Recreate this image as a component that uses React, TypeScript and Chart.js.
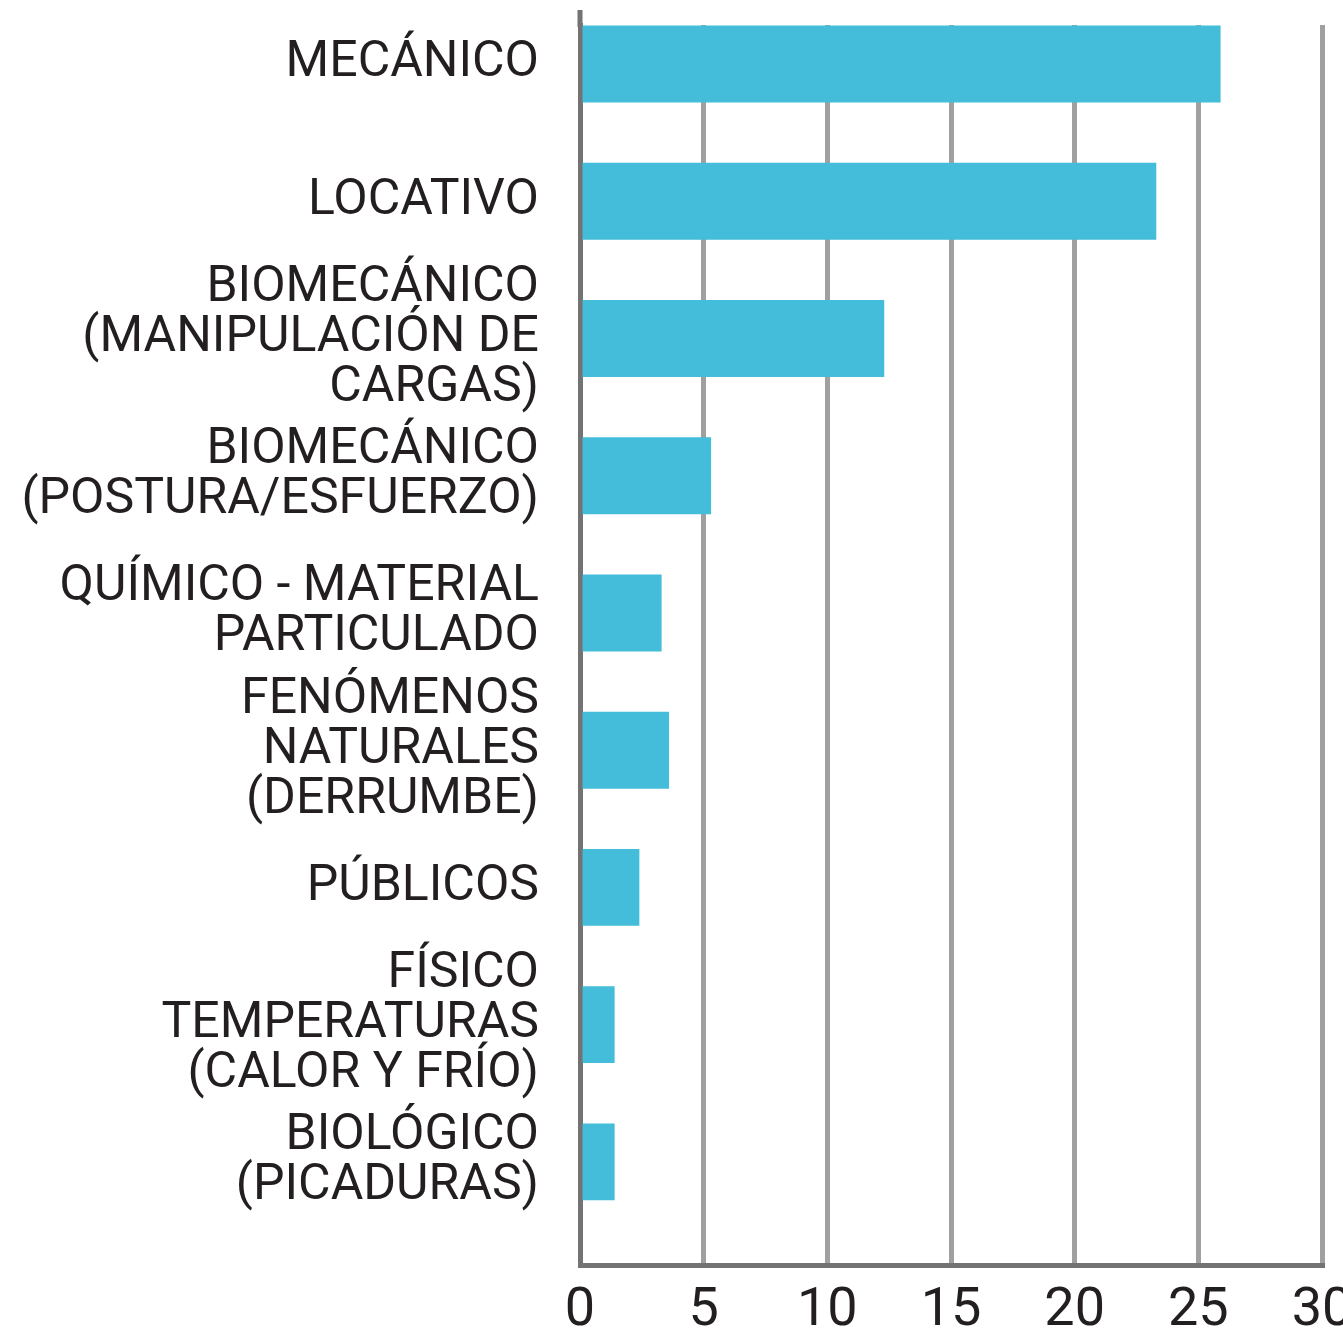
import React, { useEffect, useRef } from 'react';
import { Chart, registerables } from 'chart.js';

Chart.register(...registerables);

// Category labels (multi-line, as in the reference)
const categories: string[][] = [
  ['MECÁNICO'],
  ['LOCATIVO'],
  ['BIOMECÁNICO', '(MANIPULACIÓN DE', 'CARGAS)'],
  ['BIOMECÁNICO', '(POSTURA/ESFUERZO)'],
  ['QUÍMICO - MATERIAL', 'PARTICULADO'],
  ['FENÓMENOS', 'NATURALES', '(DERRUMBE)'],
  ['PÚBLICOS'],
  ['FÍSICO', 'TEMPERATURAS', '(CALOR Y FRÍO)'],
  ['BIOLÓGICO', '(PICADURAS)'],
];

// Series values
const values: number[] = [25.9, 23.3, 12.3, 5.3, 3.3, 3.6, 2.4, 1.4, 1.4];

// X axis range / ticks
const xMin = 0;
const xMax = 30;
const xStep = 5;

const TEXT = '#231F20';
const BAR = '#43BDDA';
const GRID = '#A0A0A0';
const AXIS = '#737373';
const FONT = "Roboto, 'Open Sans', 'DejaVu Sans', sans-serif";

// extends the left axis line a little above the plot area, as in the reference
const axisExtension = {
  id: 'axisExtension',
  beforeDatasetsDraw(chart: any) {
    const { ctx, chartArea } = chart;
    ctx.save();
    ctx.strokeStyle = AXIS;
    ctx.lineWidth = 5;
    ctx.beginPath();
    ctx.moveTo(chartArea.left, chartArea.top - 15);
    ctx.lineTo(chartArea.left, chartArea.top + 2);
    ctx.stroke();
    ctx.restore();
  },
};

export default function App() {
  const ref = useRef<HTMLCanvasElement | null>(null);

  useEffect(() => {
    if (!ref.current) return;
    const chart = new Chart(ref.current, {
      type: 'bar',
      data: {
        datasets: [
          {
            data: values.map((v, i) => ({ x: v, y: i })),
            backgroundColor: BAR,
            borderWidth: 0,
            barPercentage: 0.56,
            categoryPercentage: 1.0,
          },
        ],
      },
      plugins: [axisExtension],
      options: {
        indexAxis: 'y',
        responsive: false,
        animation: false,
        devicePixelRatio: 1,
        layout: { padding: { top: 25, right: 40, left: 0, bottom: 0 } },
        plugins: {
          legend: { display: false },
          tooltip: { enabled: false },
          title: { display: false },
        },
        scales: {
          x: {
            type: 'linear',
            position: 'bottom',
            min: xMin,
            max: xMax,
            offset: false,
            ticks: {
              stepSize: xStep,
              color: TEXT,
              font: { family: FONT, size: 54, lineHeight: 1.2 },
              padding: 14,
              autoSkip: false,
              maxRotation: 0,
            },
            grid: {
              color: GRID,
              lineWidth: 5,
              drawTicks: false,
              offset: false,
            },
            border: { display: true, color: AXIS, width: 5 },
            afterFit: (s: any) => {
              s.height = 67;
              s.paddingLeft = 0;
              s.paddingRight = 0;
            },
          },
          y: {
            type: 'linear',
            reverse: true,
            offset: false,
            min: -0.284,
            max: 8.751,
            ticks: {
              stepSize: 1,
              includeBounds: false,
              autoSkip: false,
              color: TEXT,
              font: { family: FONT, size: 50, lineHeight: 1.0 },
              padding: 33,
              callback: (v: any) => {
                const n = Number(v);
                return Number.isInteger(n) && categories[n] ? categories[n] : '';
              },
            },
            grid: { display: false, offset: false },
            border: { display: true, color: AXIS, width: 5 },
            afterFit: (s: any) => {
              s.width = 580;
              s.paddingTop = 0;
              s.paddingBottom = 0;
            },
          },
        },
      },
    } as any);
    return () => chart.destroy();
  }, []);

  return (
    <div
      style={{
        position: 'absolute',
        left: 0,
        top: 0,
        width: 1343,
        height: 1332,
        overflow: 'hidden',
        background: '#ffffff',
      }}
    >
      <canvas ref={ref} width={1362} height={1332} style={{ display: 'block' }} />
    </div>
  );
}
